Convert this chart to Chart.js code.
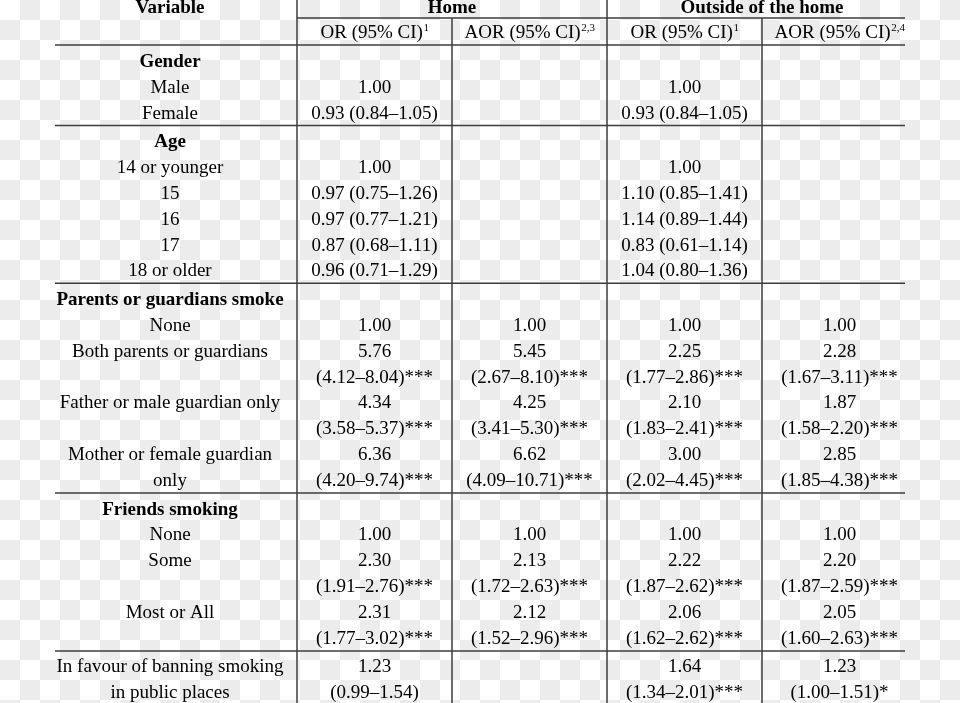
<!DOCTYPE html>
<html>
<head>
<meta charset="utf-8">
<script src="https://cdn.jsdelivr.net/npm/chart.js@4.4.1/dist/chart.umd.min.js"></script>
<style>
  html, body { margin: 0; padding: 0; }
  body {
    width: 960px; height: 703px; overflow: hidden;
    background: repeating-conic-gradient(#ececec 0 25%, #ffffff 0 50%) 0 0 / 40px 40px;
  }
  canvas { display: block; }
</style>
</head>
<body>
<canvas id="tableChart" width="960" height="703"></canvas>
<script>
// table content
const groupHeaders = ["Home", "Outside of the home"];
const columnHeaders = ["OR (95% CI)", "AOR (95% CI)", "OR (95% CI)", "AOR (95% CI)"];
const columnNotes = ["1", "2,3", "1", "2,4"];

const rowLabels = [
  "Gender", "Male", "Female",
  "Age", "14 or younger", "15", "16", "17", "18 or older",
  "Parents or guardians smoke", "None", "Both parents or guardians", "",
  "Father or male guardian only", "", "Mother or female guardian", "only",
  "Friends smoking", "None", "Some", "", "Most or All", "",
  "In favour of banning smoking", "in public places"
];
const boldRows = [0, 3, 9, 17];

const homeOR = [
  "", "1.00", "0.93 (0.84–1.05)",
  "", "1.00", "0.97 (0.75–1.26)", "0.97 (0.77–1.21)", "0.87 (0.68–1.11)", "0.96 (0.71–1.29)",
  "", "1.00", "5.76", "(4.12–8.04)***", "4.34", "(3.58–5.37)***", "6.36", "(4.20–9.74)***",
  "", "1.00", "2.30", "(1.91–2.76)***", "2.31", "(1.77–3.02)***",
  "1.23", "(0.99–1.54)"
];
const homeAOR = [
  "", "", "",
  "", "", "", "", "", "",
  "", "1.00", "5.45", "(2.67–8.10)***", "4.25", "(3.41–5.30)***", "6.62", "(4.09–10.71)***",
  "", "1.00", "2.13", "(1.72–2.63)***", "2.12", "(1.52–2.96)***",
  "", ""
];
const outsideOR = [
  "", "1.00", "0.93 (0.84–1.05)",
  "", "1.00", "1.10 (0.85–1.41)", "1.14 (0.89–1.44)", "0.83 (0.61–1.14)", "1.04 (0.80–1.36)",
  "", "1.00", "2.25", "(1.77–2.86)***", "2.10", "(1.83–2.41)***", "3.00", "(2.02–4.45)***",
  "", "1.00", "2.22", "(1.87–2.62)***", "2.06", "(1.62–2.62)***",
  "1.64", "(1.34–2.01)***"
];
const outsideAOR = [
  "", "", "",
  "", "", "", "", "", "",
  "", "1.00", "2.28", "(1.67–3.11)***", "1.87", "(1.58–2.20)***", "2.85", "(1.85–4.38)***",
  "", "1.00", "2.20", "(1.87–2.59)***", "2.05", "(1.60–2.63)***",
  "1.23", "(1.00–1.51)*"
];
const sectionStarts = [0, 3, 9, 17, 23];

// layout (scale units, text placed on its baseline)
const colEdges = [297, 452, 607, 762, 917];
const labelCenter = 170;
const tableLeft = 55, tableRight = 905;
const headerBase = 12.5, subHeaderBase = 37.5, groupRuleY = 18, headRuleY = 45;
const firstBase = 66.7, rowStep = 25.9, sectionGap = 2.5, ruleAbove = 21.5;

const sectionOf = i => sectionStarts.filter(s => s <= i).length - 1;
const rowBase = i => firstBase + rowStep * i + sectionGap * sectionOf(i);

const font = "Liberation Serif, Times New Roman, serif";

const tablePlugin = {
  id: "tableCells",
  afterDraw(chart) {
    const ctx = chart.ctx;
    const xs = chart.scales.x, ys = chart.scales.y;
    const px = v => xs.getPixelForValue(v);
    const py = v => ys.getPixelForValue(v);
    ctx.save();

    // rules
    ctx.strokeStyle = "#3c3c3c";
    ctx.lineWidth = 1.5;
    const hLine = (y, x0, x1) => { ctx.beginPath(); ctx.moveTo(px(x0), py(y)); ctx.lineTo(px(x1), py(y)); ctx.stroke(); };
    const vLine = (x, y0, y1) => { ctx.beginPath(); ctx.moveTo(px(x), py(y0)); ctx.lineTo(px(x), py(y1)); ctx.stroke(); };
    hLine(groupRuleY, colEdges[0], tableRight);
    hLine(headRuleY, tableLeft, tableRight);
    sectionStarts.slice(1).forEach(s => hLine(rowBase(s) - ruleAbove, tableLeft, tableRight));
    vLine(colEdges[0], 0, 703);
    vLine(colEdges[2], 0, 703);
    vLine(colEdges[1], groupRuleY, 703);
    vLine(colEdges[3], groupRuleY, 703);

    ctx.fillStyle = "#000";
    ctx.textBaseline = "alphabetic";
    ctx.textAlign = "center";

    // headers
    ctx.font = "bold 19px " + font;
    ctx.fillText("Variable", px(labelCenter), py(headerBase));
    ctx.fillText(groupHeaders[0], px((colEdges[0] + colEdges[2]) / 2), py(headerBase));
    ctx.fillText(groupHeaders[1], px((colEdges[2] + colEdges[4]) / 2), py(headerBase));

    columnHeaders.forEach((h, c) => {
      const cx = px((colEdges[c] + colEdges[c + 1]) / 2);
      const y = py(subHeaderBase);
      ctx.font = "19px " + font;
      const w1 = ctx.measureText(h).width;
      ctx.font = "11px " + font;
      const w2 = ctx.measureText(columnNotes[c]).width;
      const start = cx - (w1 + w2) / 2;
      ctx.textAlign = "left";
      ctx.font = "19px " + font;
      ctx.fillText(h, start, y);
      ctx.font = "11px " + font;
      ctx.fillText(columnNotes[c], start + w1 + 0.5, y - 6.5);
      ctx.textAlign = "center";
    });

    // body
    const columns = [homeOR, homeAOR, outsideOR, outsideAOR];
    rowLabels.forEach((label, i) => {
      const y = py(rowBase(i));
      ctx.font = (boldRows.includes(i) ? "bold " : "") + "19px " + font;
      ctx.fillText(label, px(labelCenter), y);
      ctx.font = "19px " + font;
      columns.forEach((col, c) => {
        if (col[i]) ctx.fillText(col[i], px((colEdges[c] + colEdges[c + 1]) / 2), y);
      });
    });
    ctx.restore();
  }
};

new Chart(document.getElementById("tableChart").getContext("2d"), {
  type: "scatter",
  data: { datasets: [] },
  options: {
    responsive: false,
    animation: false,
    layout: { padding: 0 },
    plugins: { legend: { display: false }, tooltip: { enabled: false } },
    scales: {
      x: { type: "linear", min: 0, max: 960, display: false },
      y: { type: "linear", min: 0, max: 703, reverse: true, display: false }
    }
  },
  plugins: [tablePlugin]
});
</script>
</body>
</html>
